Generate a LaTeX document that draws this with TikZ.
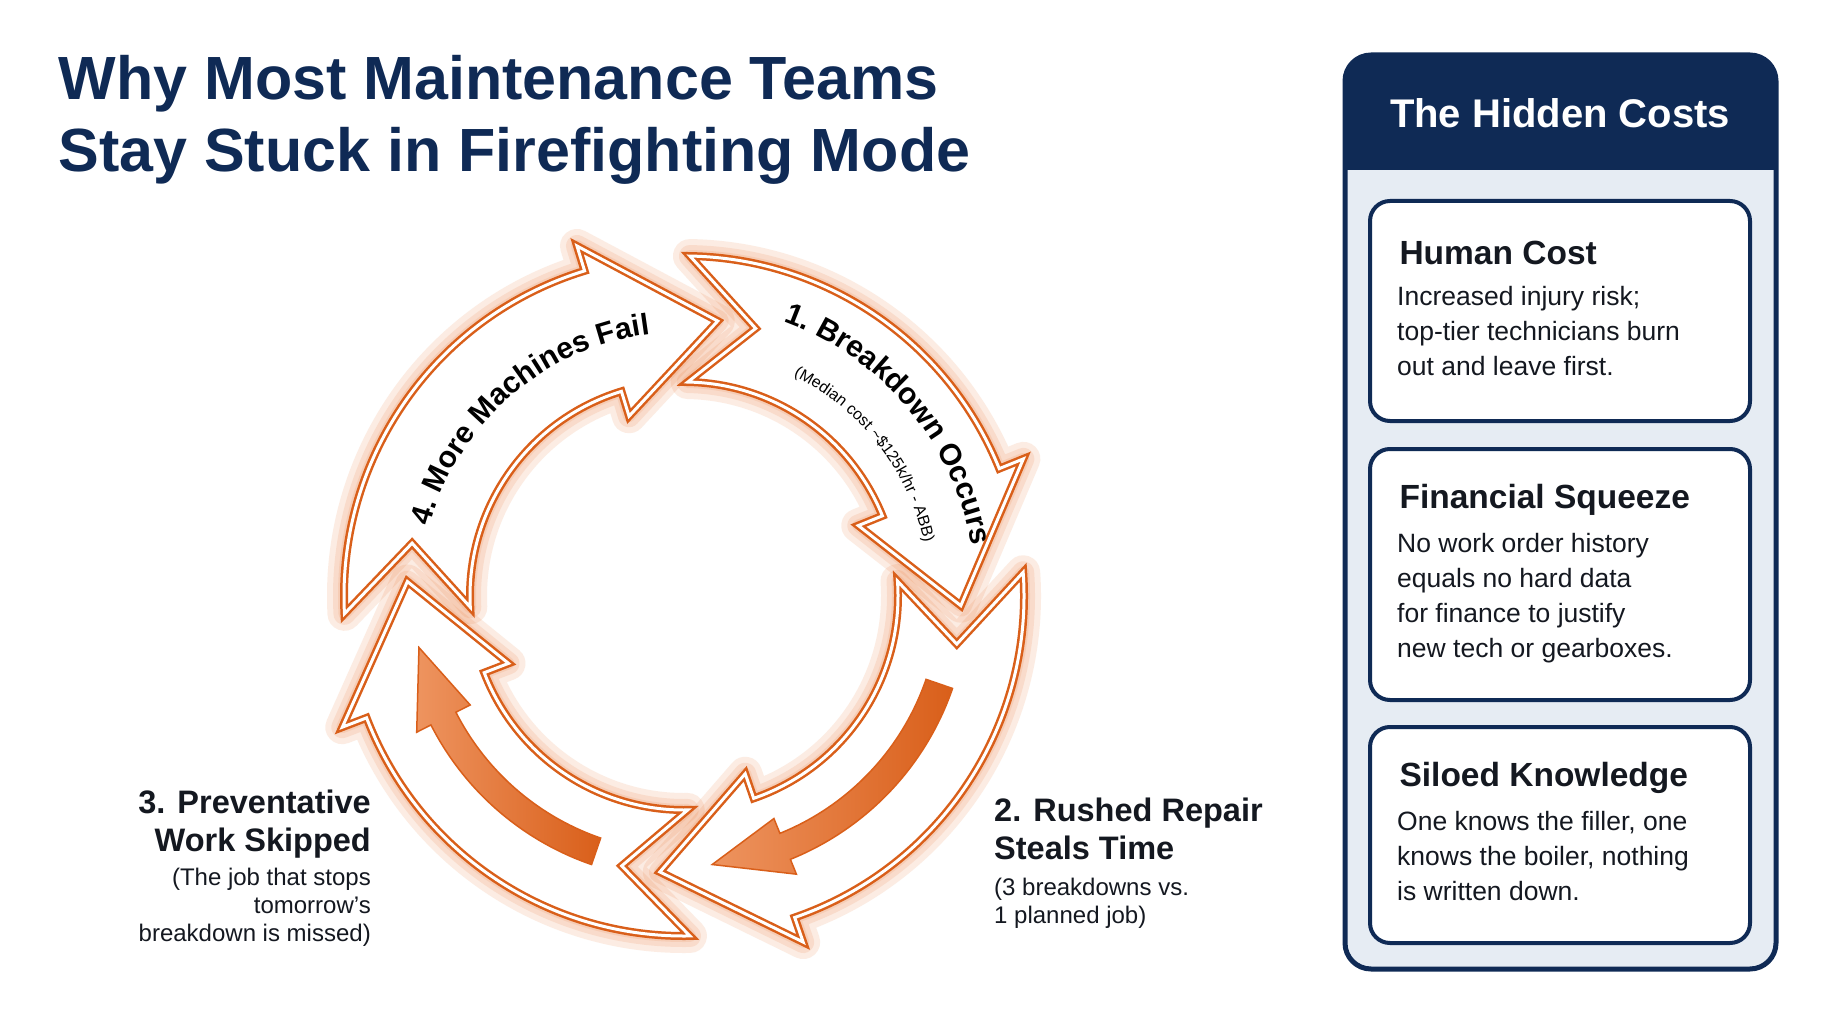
\documentclass[tikz,border=0pt]{standalone}
\usepackage{fontspec}
\setmainfont{Liberation Sans}
\usetikzlibrary{decorations.text}
\definecolor{navy}{HTML}{0F2A55}
\definecolor{org}{HTML}{E8702A}
\definecolor{orgd}{HTML}{D95F1A}
\definecolor{panel}{HTML}{E6ECF3}
\definecolor{ink}{HTML}{141820}
\tikzset{
  ring/.style={draw=orgd, line width=2.5pt, double=white, double distance=3pt, fill=white, line join=miter},
  glow/.style={draw=org, line width=#1, opacity=0.13, line join=round},
  solid/.style={draw=orgd, line width=1.5pt, left color=org!75, right color=orgd, line join=miter},
  card/.style={draw=navy, line width=4pt, fill=white, rounded corners=20pt},
  ttl/.style={font=\fontsize{61}{66}\selectfont\bfseries, text=navy, anchor=west},
  ctitle/.style={font=\fontsize{33.5}{36}\selectfont\bfseries, text=ink, anchor=west},
  cbody/.style={font=\fontsize{26.5}{35}\selectfont, text=ink, anchor=north west, align=left, inner sep=0pt},
  lblh/.style={font=\fontsize{32.5}{38}\selectfont\bfseries, text=ink, inner sep=0pt},
  lbls/.style={font=\fontsize{24}{28}\selectfont, text=ink, inner sep=0pt}
}
\begin{document}
\begin{tikzpicture}[x=1pt,y=1pt]
\useasboundingbox (0,0) rectangle (1834,-1024);
\fill[white] (0,0) rectangle (1834,-1024);
% title
\node[ttl] (t1) at (55,-84) {Why Most Maintenance Teams};
\node[ttl] (t2) at (55,-156) {Stay Stuck in Firefighting Mode};
% cycle
\begin{scope}[shift={(684,-596)}]
\foreach \S/\T in {177/83, 83/-2, -2/-95, -95/-183}{
  \pgfmathsetmacro\B{\T+24}\pgfmathsetmacro\A{\S+6}\pgfmathsetmacro\N{\S-8}
  \foreach \w in {34,22,12}{
  \draw[glow=\w pt] (\A:340) arc[start angle=\A, end angle=\B, radius=340] -- (\B:366) -- (\T:277) -- (\B:188) -- (\B:214) arc[start angle=\B, end angle=\A, radius=214] -- (\N:277) -- cycle;}
}
\foreach \S/\T in {177/83, 83/-2, -2/-95, -95/-183}{
  \pgfmathsetmacro\B{\T+24}\pgfmathsetmacro\A{\S+6}\pgfmathsetmacro\N{\S-8}
  \draw[ring] (\A:340) arc[start angle=\A, end angle=\B, radius=340] -- (\B:366) -- (\T:277) -- (\B:188) -- (\B:214) arc[start angle=\B, end angle=\A, radius=214] -- (\N:277) -- cycle;
}
% inner solid arrows
\draw[solid] (-19:284) arc[start angle=-19, end angle=-68, radius=284] -- (-68:300) -- (-84:270) -- (-68:240) -- (-68:256) arc[start angle=-68, end angle=-19, radius=256] -- cycle;
\draw[solid] (-109:284) arc[start angle=-109, end angle=-153, radius=284] -- (-153:300) -- (-169:270) -- (-153:240) -- (-153:256) arc[start angle=-153, end angle=-109, radius=256] -- cycle;
% curved texts
\path[decorate, decoration={text along path, text align=center,
  text={|\fontsize{30}{30}\selectfont\bfseries|4. More Machines Fail}}]
  (168:264) arc[start angle=168, end angle=94, radius=264];
\path[decorate, decoration={text along path, text align=center,
  text={|\fontsize{30}{30}\selectfont\bfseries|1. Breakdown Occurs}}]
  (76:292) arc[start angle=76, end angle=4, radius=292];
\path[decorate, decoration={text along path, text align=center,
  text={|\fontsize{16}{16}\selectfont|(Median cost {\textasciitilde}{\$}125k/hr - ABB)}}]
  (74:246) arc[start angle=74, end angle=2, radius=246];
\end{scope}
% side labels
\node[lblh, anchor=north east, align=right] (l3) at (371,-790) {3. Preventative\\Work Skipped};
\node[lbls, anchor=north east, align=right] (l3s) at (371,-868) {(The job that stops\\tomorrow’s\\breakdown is missed)};
\node[lblh, anchor=north west, align=left] (l2) at (994,-798) {2. Rushed Repair\\Steals Time};
\node[lbls, anchor=north west, align=left] (l2s) at (994,-878) {(3 breakdowns vs.\\1 planned job)};
% panel
\draw[navy, line width=5pt, fill=panel, rounded corners=26pt] (1345,-55) rectangle (1776,-969);
\fill[navy, rounded corners=24pt] (1345,-55) rectangle (1776,-120);
\fill[navy] (1345,-100) rectangle (1776,-170);
\node[font=\fontsize{40}{44}\selectfont\bfseries, text=white] (hc) at (1560,-113) {The Hidden Costs};
\draw[card] (1370,-201) rectangle (1750,-421);
\node[ctitle] (c1) at (1396,-253) {Human Cost};
\node[cbody] (b1) at (1397,-286) {Increased injury risk;\\top-tier technicians burn\\out and leave first.};
\draw[card] (1370,-449) rectangle (1750,-700);
\node[ctitle] (c2) at (1396,-500) {Financial Squeeze};
\node[cbody] (b2) at (1397,-533) {No work order history\\equals no hard data\\for finance to justify\\new tech or gearboxes.};
\draw[card] (1370,-727) rectangle (1750,-943);
\node[ctitle] (c3) at (1396,-778) {Siloed Knowledge};
\node[cbody] (b3) at (1397,-811) {One knows the filler, one\\knows the boiler, nothing\\is written down.};
\end{tikzpicture}
\end{document}
